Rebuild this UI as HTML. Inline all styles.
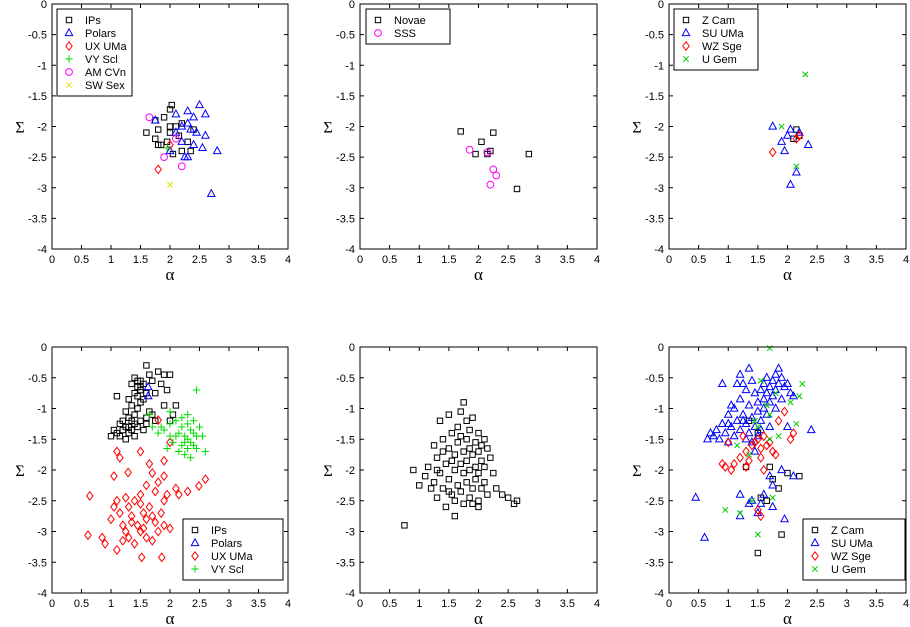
<!DOCTYPE html>
<html><head><meta charset="utf-8">
<style>
html,body{margin:0;padding:0;background:#fff;}
svg{display:block;font-family:"Liberation Sans",sans-serif;}
</style></head>
<body>
<svg id="chart" width="910" height="627" viewBox="0 0 910 627" xmlns="http://www.w3.org/2000/svg"></svg>
<script>
// ---- data (alpha, Sigma) ----
const xTicks = [0,0.5,1,1.5,2,2.5,3,3.5,4];
const xTickLabels = ["0","0.5","1","1.5","2","2.5","3","3.5","4"];
const yTicks = [0,-0.5,-1,-1.5,-2,-2.5,-3,-3.5,-4];
const yTickLabels = ["0","-0.5","-1","-1.5","-2","-2.5","-3","-3.5","-4"];

const p1IPs = [[2.03,-1.65],[2.0,-1.72],[1.9,-1.85],[1.75,-1.9],[1.6,-2.1],[1.8,-2.05],[1.75,-2.2],[1.85,-2.3],[1.95,-2.25],[2.0,-2.1],[2.1,-2.0],[2.2,-1.95],[2.15,-2.15],[2.3,-2.25],[2.35,-2.4],[2.2,-2.4],[2.05,-2.45],[1.8,-2.3],[2.4,-2.05],[2.0,-2.0]];
const p1Polars = [[2.1,-1.8],[2.3,-1.75],[2.5,-1.65],[2.6,-1.8],[2.4,-1.85],[2.3,-1.95],[2.2,-2.0],[2.1,-2.1],[2.35,-2.05],[2.45,-2.1],[2.6,-2.15],[2.55,-2.35],[2.8,-2.4],[2.25,-2.5],[2.3,-2.5],[2.0,-2.4],[1.75,-1.9],[2.7,-3.1],[2.4,-2.3],[2.2,-2.25]];
const p1UXUMa = [[1.8,-2.7],[2.0,-2.3]];
const p1VYScl = [[1.95,-2.35]];
const p1AMCVn = [[1.65,-1.85],[2.1,-2.2],[1.9,-2.5],[2.2,-2.65]];
const p1SWSex = [[2.0,-2.95]];

const p2Novae = [[1.7,-2.08],[2.25,-2.1],[2.05,-2.25],[2.15,-2.45],[2.2,-2.4],[2.85,-2.45],[2.65,-3.02],[1.95,-2.45]];
const p2SSS = [[1.85,-2.38],[2.15,-2.42],[2.25,-2.7],[2.3,-2.8],[2.2,-2.95]];

const p3ZCam = [[2.15,-2.05],[2.1,-2.2],[2.2,-2.15]];
const p3SUUMa = [[1.75,-2.0],[1.9,-2.25],[2.0,-2.15],[2.05,-2.05],[2.2,-2.1],[2.35,-2.3],[2.05,-2.95],[2.15,-2.75],[1.95,-2.4]];
const p3WZSge = [[1.75,-2.42],[2.15,-2.2],[2.2,-2.15]];
const p3UGem = [[2.3,-1.15],[1.9,-2.0],[2.15,-2.65]];

const p4IPs = [[1.6,-0.3],[1.65,-0.45],[1.8,-0.4],[1.9,-0.45],[2.0,-0.45],[1.5,-0.55],[1.35,-0.6],[1.4,-0.5],[1.45,-0.65],[1.5,-0.7],[1.55,-0.6],[1.6,-0.75],[1.7,-0.55],[1.45,-0.8],[1.4,-0.75],[1.3,-0.85],[1.1,-0.8],[1.75,-0.75],[1.85,-0.6],[1.95,-0.7],[1.5,-0.9],[1.55,-0.85],[1.35,-0.95],[1.25,-1.05],[1.7,-1.1],[1.6,-1.15],[1.4,-1.1],[1.45,-1.0],[1.9,-0.95],[2.1,-0.95],[2.05,-1.1],[2.0,-1.2],[1.3,-1.15],[1.35,-1.2],[1.4,-1.25],[1.25,-1.3],[1.2,-1.35],[1.15,-1.25],[1.3,-1.4],[1.1,-1.4],[1.0,-1.45],[1.05,-1.35],[1.45,-1.3],[1.5,-1.2],[1.6,-1.25],[1.55,-1.35],[1.2,-1.2],[1.35,-1.35],[1.4,-1.45],[1.15,-1.45],[1.75,-1.2],[1.65,-1.05],[1.25,-1.5],[1.45,-0.55],[1.5,-0.65],[1.3,-1.3]];
const p4Polars = [[1.63,-0.65],[1.63,-0.8]];
const p4UXUMa = [[0.64,-2.42],[0.61,-3.06],[0.85,-3.1],[0.9,-3.2],[1.1,-3.3],[1.0,-2.8],[1.05,-2.6],[1.1,-2.5],[1.15,-2.7],[1.2,-2.9],[1.25,-3.0],[1.3,-2.6],[1.35,-2.75],[1.4,-2.5],[1.45,-2.9],[1.5,-3.0],[1.55,-2.7],[1.6,-2.8],[1.65,-2.6],[1.7,-2.75],[1.75,-2.85],[1.8,-3.0],[1.9,-2.9],[1.85,-2.7],[2.0,-2.95],[1.3,-3.1],[1.2,-3.15],[1.4,-3.2],[1.6,-3.1],[1.7,-3.15],[1.9,-2.5],[1.95,-2.4],[1.75,-2.35],[1.5,-2.4],[1.6,-2.25],[1.8,-2.2],[1.9,-2.1],[2.1,-2.3],[2.15,-2.4],[2.3,-2.35],[2.49,-2.26],[1.5,-1.7],[1.65,-1.9],[1.9,-1.85],[2.0,-1.55],[1.1,-1.7],[1.15,-1.8],[1.29,-2.04],[1.8,-1.19],[1.52,-3.42],[1.86,-3.42],[1.05,-2.1],[2.6,-2.15],[1.5,-2.55],[1.25,-2.45],[1.7,-2.05],[1.35,-2.85],[1.55,-2.95]];
const p4VYScl = [[2.45,-0.7],[1.65,-1.1],[2.0,-1.05],[1.7,-1.3],[1.8,-1.4],[1.9,-1.35],[2.0,-1.25],[2.1,-1.2],[2.2,-1.15],[2.3,-1.1],[2.4,-1.2],[2.5,-1.3],[2.55,-1.45],[2.2,-1.3],[2.25,-1.45],[2.3,-1.5],[2.35,-1.55],[2.4,-1.6],[2.3,-1.65],[2.2,-1.6],[2.25,-1.75],[2.15,-1.7],[2.05,-1.55],[2.1,-1.45],[2.35,-1.35],[2.45,-1.45],[2.6,-1.7],[2.35,-1.8],[1.95,-1.65],[2.0,-1.45],[1.85,-1.3],[2.3,-1.25],[2.15,-1.4],[2.4,-1.4],[2.45,-1.65],[2.25,-1.55]];

const p5 = [[0.75,-2.9],[0.9,-2.0],[1.0,-2.25],[1.1,-2.1],[1.15,-1.95],[1.2,-2.3],[1.25,-2.2],[1.3,-1.8],[1.3,-2.45],[1.35,-2.05],[1.35,-1.2],[1.4,-1.5],[1.4,-2.3],[1.45,-1.9],[1.45,-2.6],[1.5,-1.1],[1.5,-1.65],[1.5,-2.15],[1.55,-1.4],[1.55,-2.4],[1.6,-1.75],[1.6,-2.0],[1.6,-2.5],[1.65,-1.3],[1.65,-1.55],[1.65,-2.25],[1.7,-1.05],[1.7,-1.45],[1.7,-1.9],[1.7,-2.35],[1.75,-0.9],[1.75,-1.7],[1.75,-2.05],[1.75,-2.55],[1.8,-1.2],[1.8,-1.5],[1.8,-1.85],[1.8,-2.2],[1.85,-1.35],[1.85,-1.65],[1.85,-2.0],[1.85,-2.45],[1.9,-1.15],[1.9,-1.75],[1.9,-2.3],[1.95,-1.55],[1.95,-1.95],[1.95,-2.15],[2.0,-1.4],[2.0,-1.7],[2.0,-2.05],[2.0,-2.5],[2.05,-1.6],[2.05,-1.85],[2.05,-2.3],[2.1,-1.5],[2.1,-1.95],[2.1,-2.2],[2.15,-1.65],[2.15,-2.4],[2.2,-1.8],[2.25,-2.05],[2.3,-2.3],[2.4,-2.4],[2.5,-2.45],[2.6,-2.55],[2.65,-2.5],[1.4,-1.7],[1.55,-1.85],[1.25,-1.6],[1.6,-2.75],[2.0,-2.6],[1.3,-2.0],[1.9,-2.55],[1.5,-2.35]];

const p6ZCam = [[1.3,-1.95],[1.7,-1.95],[1.75,-2.15],[2.0,-2.05],[2.2,-2.1],[1.85,-2.3],[1.65,-2.5],[1.55,-2.45],[1.5,-3.35],[1.9,-3.05],[1.35,-1.2],[1.5,-1.4]];
const p6SUUMa = [[0.45,-2.45],[0.6,-3.1],[0.65,-1.5],[0.7,-1.4],[0.75,-1.45],[0.8,-1.35],[0.85,-1.5],[0.9,-1.25],[0.95,-1.4],[1.0,-1.1],[1.0,-1.55],[1.05,-1.3],[1.1,-1.0],[1.1,-1.45],[1.15,-1.2],[1.2,-0.85],[1.2,-1.35],[1.25,-0.6],[1.25,-1.1],[1.3,-0.7],[1.3,-1.25],[1.3,-1.5],[1.35,-0.95],[1.35,-1.4],[1.4,-0.55],[1.4,-1.15],[1.45,-0.75],[1.45,-1.3],[1.5,-0.9],[1.5,-1.05],[1.5,-1.45],[1.55,-0.7],[1.55,-1.2],[1.6,-0.6],[1.6,-0.85],[1.6,-1.0],[1.65,-0.5],[1.65,-0.75],[1.65,-1.1],[1.7,-0.65],[1.7,-0.9],[1.75,-0.55],[1.75,-0.8],[1.8,-0.45],[1.8,-0.7],[1.85,-0.35],[1.85,-0.6],[1.9,-0.5],[1.9,-0.85],[1.95,-0.65],[2.0,-0.6],[2.05,-0.75],[2.1,-0.8],[1.4,-1.55],[0.9,-0.6],[1.05,-0.95],[1.15,-0.6],[1.35,-0.35],[1.7,-1.3],[1.55,-1.35],[2.0,-1.3],[2.4,-1.35],[1.9,-2.0],[2.1,-2.1],[1.4,-2.5],[1.6,-2.4],[1.55,-2.55],[1.75,-2.6],[1.35,-2.55],[1.2,-2.4],[1.75,-2.25],[1.7,-2.1],[1.95,-2.8],[1.2,-2.75],[1.5,-2.7],[1.45,-1.7],[1.8,-1.0],[1.25,-1.2],[1.0,-1.25],[1.2,-0.45]];
const p6WZSge = [[0.9,-1.9],[0.95,-1.95],[1.05,-2.0],[1.1,-1.9],[1.2,-1.8],[1.3,-1.7],[1.35,-1.85],[1.4,-1.6],[1.45,-1.55],[1.5,-1.5],[1.55,-1.65],[1.55,-1.8],[1.6,-1.45],[1.65,-1.6],[1.7,-1.55],[1.75,-1.7],[1.8,-1.75],[1.85,-1.2],[1.95,-1.05],[2.05,-1.5],[2.1,-1.4],[1.6,-2.0],[1.3,-1.95],[1.0,-1.55],[1.5,-2.65],[1.55,-2.75],[1.25,-1.45]];
const p6UGem = [[1.7,-0.02],[1.55,-0.55],[1.8,-0.75],[2.25,-0.6],[2.2,-0.8],[2.05,-0.9],[1.65,-0.95],[1.7,-1.1],[1.45,-1.2],[1.5,-1.3],[1.15,-1.6],[1.35,-1.75],[1.85,-1.45],[2.15,-1.25],[1.7,-1.5],[0.95,-2.65],[1.4,-2.5],[1.2,-2.7],[1.5,-3.05],[1.75,-2.45]];

// ---- rendering ----
const NS = "http://www.w3.org/2000/svg";
const svg = document.getElementById('chart');
function mk(tag, attrs, parent){const e=document.createElementNS(NS,tag);for(const k in attrs)e.setAttribute(k,attrs[k]);(parent||svg).appendChild(e);return e;}

const STY = {
  sq:{c:"#000"}, tri:{c:"#0000ff"}, dia:{c:"#ff0000"}, plus:{c:"#00dd00"}, circ:{c:"#ff00ff"}, xy:{c:"#e6e600"}, xg:{c:"#00cc00"}
};
function marker(g, type, x, y){
  const c = STY[type].c; let e;
  if(type==='sq') e=mk('rect',{x:x-2.7,y:y-2.7,width:5.4,height:5.4,fill:'none',stroke:c,'stroke-width':1},g);
  else if(type==='tri') e=mk('polygon',{points:`${x},${y-4.2} ${x-3.7},${y+2.6} ${x+3.7},${y+2.6}`,fill:'none',stroke:c,'stroke-width':1},g);
  else if(type==='dia') e=mk('polygon',{points:`${x},${y-4.2} ${x+3.2},${y} ${x},${y+4.2} ${x-3.2},${y}`,fill:'none',stroke:c,'stroke-width':1},g);
  else if(type==='circ') e=mk('circle',{cx:x,cy:y,r:3.4,fill:'none',stroke:c,'stroke-width':1},g);
  else if(type==='plus') e=mk('path',{d:`M${x-3.7},${y}H${x+3.7}M${x},${y-3.7}V${y+3.7}`,stroke:c,'stroke-width':1},g);
  else e=mk('path',{d:`M${x-2.7},${y-2.7}L${x+2.7},${y+2.7}M${x-2.7},${y+2.7}L${x+2.7},${y-2.7}`,stroke:c,'stroke-width':1},g);
  return e;
}

function panel(name, x0, x1, y0, y1, series, legend, bare){
  const g = mk('g',{});
  
  
  const sx = a => x0 + (a/4)*(x1-x0);
  const sy = s => y0 + (-s/4)*(y1-y0);
  xTicks.forEach((t,i)=>{
    const x=sx(t);
    mk('line',{x1:x,x2:x,y1:y1,y2:y1-4,stroke:'#000'},g);
    mk('line',{x1:x,x2:x,y1:y0,y2:y0+4,stroke:'#000'},g);
    const tl=mk('text',{x:x,y:y1+14,'font-size':11,'text-anchor':'middle'},g);
    tl.textContent=xTickLabels[i];
    
    
  });
  yTicks.forEach((t,i)=>{
    const y=sy(t);
    mk('line',{x1:x0,x2:x0+4,y1:y,y2:y,stroke:'#000'},g);
    mk('line',{x1:x1,x2:x1-4,y1:y,y2:y,stroke:'#000'},g);
    const tl=mk('text',{x:x0-5,y:y+4,'font-size':11,'text-anchor':'end'},g);
    tl.textContent=yTickLabels[i];
    
    
  });
  series.forEach(s=>{
    const sg=mk('g',{},g);
    
    
    s.data.forEach(p=>{
      const m=marker(sg,s.type,sx(p[0]),sy(p[1]));
      
      
    });
  });
  const box=mk('rect',{x:x0,y:y0,width:x1-x0,height:y1-y0,fill:'none',stroke:'#000','stroke-width':1},g);
  
  
  const xl=mk('text',{x:(x0+x1)/2,y:y1+31,'font-size':17,'text-anchor':'middle','font-family':'"Liberation Serif",serif'},g);
  xl.textContent='α';
  
  
  const yl=mk('text',{x:x0-32,y:(y0+y1)/2+6,'font-size':16,'text-anchor':'middle','font-family':'"Liberation Serif",serif'},g);
  yl.textContent='Σ';
  
  
  if(bare) return;
  const lg=mk('g',{},g);
  
  
  mk('rect',{x:legend.x,y:legend.y,width:legend.w,height:series.length*13+9,fill:'#fff',stroke:'#000'},lg);
  series.forEach((s,i)=>{
    const yy=legend.y+11+i*13;
    const m=marker(lg,s.type,legend.x+12,yy);
    
    
    const t=mk('text',{x:legend.x+28,y:yy+4,'font-size':11},lg);
    t.textContent=s.label;
    
    
  });
}

const TX=[[52,288],[360,597],[669,906]];
panel('panel-top-left',TX[0][0],TX[0][1],4,249,[
 {label:'IPs',type:'sq',data:p1IPs},{label:'Polars',type:'tri',data:p1Polars},{label:'UX UMa',type:'dia',data:p1UXUMa},
 {label:'VY Scl',type:'plus',data:p1VYScl},{label:'AM CVn',type:'circ',data:p1AMCVn},{label:'SW Sex',type:'xy',data:p1SWSex}],{x:57,y:9,w:75});
panel('panel-top-middle',TX[1][0],TX[1][1],4,249,[
 {label:'Novae',type:'sq',data:p2Novae},{label:'SSS',type:'circ',data:p2SSS}],{x:366,y:9,w:84});
panel('panel-top-right',TX[2][0],TX[2][1],4,249,[
 {label:'Z Cam',type:'sq',data:p3ZCam},{label:'SU UMa',type:'tri',data:p3SUUMa},{label:'WZ Sge',type:'dia',data:p3WZSge},{label:'U Gem',type:'xg',data:p3UGem}],{x:674,y:9,w:84});
panel('panel-bottom-left',TX[0][0],TX[0][1],347,593,[
 {label:'IPs',type:'sq',data:p4IPs},{label:'Polars',type:'tri',data:p4Polars},{label:'UX UMa',type:'dia',data:p4UXUMa},{label:'VY Scl',type:'plus',data:p4VYScl}],{x:183,y:519,w:100});
panel('panel-bottom-middle',TX[1][0],TX[1][1],347,593,[
 {label:'CVs',type:'sq',data:p5}],{x:0,y:0,w:0},true);
panel('panel-bottom-right',TX[2][0],TX[2][1],347,593,[
 {label:'Z Cam',type:'sq',data:p6ZCam},{label:'SU UMa',type:'tri',data:p6SUUMa},{label:'WZ Sge',type:'dia',data:p6WZSge},{label:'U Gem',type:'xg',data:p6UGem}],{x:803,y:519,w:102});
</script>
</body></html>
